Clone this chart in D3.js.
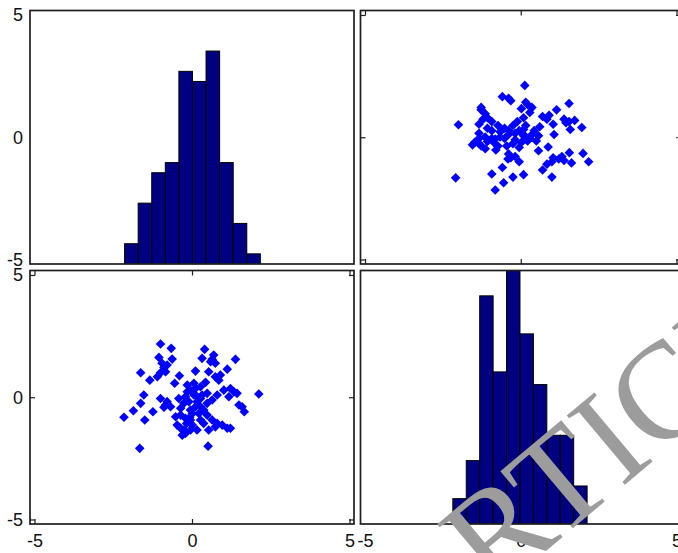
<!DOCTYPE html>
<html><head><meta charset="utf-8">
<script src="https://cdn.jsdelivr.net/npm/d3@7"></script>
<style>body{margin:0;background:#fff}svg{display:block}</style>
</head><body>
<script>
// variable 1 and variable 2 (paired observations)
const var1 = [-1.00,-0.66,-1.05,-0.63,0.40,0.69,0.32,0.64,0.74,1.38,
  -1.63,-0.89,-1.00,-1.10,-0.84,-1.34,-0.40,-0.55,0.11,0.53,
  1.12,0.43,0.74,0.85,0.90,2.12,1.43,1.22,1.17,-1.53,
  -1.63,-1.86,-2.16,-1.50,-1.24,-1.00,-0.79,-0.68,-0.89,-0.42,
  -0.15,-0.05,0.11,0.27,-0.21,0.06,-0.10,0.27,0.48,0.64,
  0.80,1.01,1.59,1.66,-0.05,-0.36,-0.21,-0.47,-0.26,-0.31,
  0.01,0.16,-0.05,0.27,0.48,0.64,0.80,0.96,1.12,1.22,
  0.74,-1.66,0.51,0.11,0.37,-0.36,-0.52,-0.17,-0.07,0.27,
  -0.15,0.16,0.01,0.37,-0.36,-0.21,0.32,-0.26,0.48,-0.79,
  -0.95,0.59,0.06,0.22,0.53,1.33,1.49,-0.84,0.11,-0.05];
const var2 = [2.18,2.00,1.63,1.56,1.96,1.73,1.59,1.55,1.39,1.55,
  1.00,1.22,1.00,0.84,1.04,0.70,0.88,0.57,1.07,1.04,
  1.15,0.61,0.84,0.70,0.91,0.13,0.16,0.36,0.02,0.09,
  -0.25,-0.55,-0.82,-0.93,-0.59,-0.05,-0.18,-0.39,-0.41,-0.05,
  0.50,0.29,0.36,0.43,0.02,0.09,-0.18,-0.05,0.16,-0.11,
  0.09,0.29,-0.39,-0.59,-0.52,-0.73,-0.86,-1.14,-1.34,-1.55,
  -1.14,-1.34,-1.34,-0.93,-0.73,-0.93,-1.07,-1.14,-1.27,-1.27,
  -1.21,-2.09,-2.00,-0.39,-0.52,-0.45,-0.80,-1.07,-0.82,-0.39,
  0.22,-0.18,-0.66,-1.07,-1.27,-1.48,0.09,-0.25,-0.25,1.32,
  1.39,1.45,0.57,-0.66,-1.34,0.22,-0.32,-0.32,0.09,-0.93];

// histogram of each variable: 10 equal bins between min and max
const hist1Counts = [2,6,9,10,19,18,21,10,4,1];
const hist1Range = [-2.14, 2.17];
const hist1YMax = 25;
const hist2Counts = [2,5,18,12,20,15,11,7,7,3];
const hist2Range = [-2.18, 2.13];
const hist2YMax = 20;

const tickValues = [-5, 0, 5];
const tickLabels = ["-5", "0", "5"];
const watermarkText = "ARTICLE IN PRESS";

const W = 678, H = 553;
const svg = d3.select("body").append("svg").attr("width", W).attr("height", H);

const cols = [{x0: 30, x1: 354}, {x0: 360.5, x1: 681}];
const rows = [{y0: 10.5, y1: 264}, {y0: 270.5, y1: 524}];
const inset = 4.5;
const xs = cols.map(c => d3.scaleLinear().domain([-5, 5]).range([c.x0 + inset, c.x1 - inset]));
const ys = rows.map(r => d3.scaleLinear().domain([-5, 5]).range([r.y1 - inset, r.y0 + inset]));

const FONT = "'Liberation Sans', Arial, Helvetica, sans-serif";
const frameColor = "#1e1e1e";

// clip paths
const defs = svg.append("defs");
rows.forEach((r, i) => cols.forEach((c, j) => {
  defs.append("clipPath").attr("id", `clip${i}${j}`)
    .append("rect").attr("x", c.x0).attr("y", r.y0)
    .attr("width", c.x1 - c.x0).attr("height", r.y1 - r.y0);
}));

function histogram(ri, ci, counts, range, ymax) {
  const r = rows[ri];
  const x = xs[ci];
  const y = d3.scaleLinear().domain([0, ymax]).range([r.y1, r.y0]);
  const step = (range[1] - range[0]) / counts.length;
  const bins = counts.map((n, k) => ({lo: range[0] + k * step, hi: range[0] + (k + 1) * step, n}));
  svg.append("g").attr("clip-path", `url(#clip${ri}${ci})`)
    .selectAll("rect").data(bins).join("rect")
    .attr("x", d => x(d.lo)).attr("width", d => x(d.hi) - x(d.lo))
    .attr("y", d => y(d.n)).attr("height", d => y(0) - y(d.n))
    .attr("fill", "#000080").attr("stroke", "#000").attr("stroke-width", 1);
}

const diamond = r => `M0,${-r}L${r},0L0,${r}L${-r},0Z`;

function scatter(ri, ci, xv, yv) {
  const x = xs[ci], y = ys[ri];
  const pts = xv.map((v, k) => [v, yv[k]]);
  svg.append("g").attr("clip-path", `url(#clip${ri}${ci})`)
    .selectAll("path").data(pts).join("path")
    .attr("d", diamond(4.8))
    .attr("transform", d => `translate(${x(d[0])},${y(d[1])})`)
    .attr("fill", "#0000ff");
  // inward ticks on all four sides
  const c = cols[ci], r = rows[ri];
  const tick = (axis, tx, ty) => {
    const g = svg.append("g").attr("transform", `translate(${tx},${ty})`)
      .call(axis.tickValues(tickValues).tickFormat("").tickSizeOuter(0));
    g.select(".domain").remove();
    g.selectAll(".tick line").attr("stroke", frameColor).attr("stroke-width", 1.2);
  };
  tick(d3.axisLeft(y).tickSizeInner(-5), c.x0, 0);
  tick(d3.axisRight(y).tickSizeInner(-5), c.x1, 0);
  tick(d3.axisTop(x).tickSizeInner(-5), 0, r.y0);
  tick(d3.axisBottom(x).tickSizeInner(-5), 0, r.y1);
}

histogram(0, 0, hist1Counts, hist1Range, hist1YMax);
histogram(1, 1, hist2Counts, hist2Range, hist2YMax);
scatter(0, 1, var2, var1);
scatter(1, 0, var1, var2);

// frames
rows.forEach(r => cols.forEach(c => {
  svg.append("rect").attr("x", c.x0).attr("y", r.y0)
    .attr("width", c.x1 - c.x0).attr("height", r.y1 - r.y0)
    .attr("fill", "none").attr("stroke", frameColor).attr("stroke-width", 1.7);
}));

// tick labels: left column (y) and bottom row (x)
rows.forEach((r, i) => {
  const g = svg.append("g").attr("transform", `translate(${cols[0].x0},0)`)
    .call(d3.axisLeft(ys[i]).tickValues(tickValues).tickFormat((d, k) => tickLabels[k])
      .tickSize(0).tickPadding(7));
  g.select(".domain").remove();
  g.selectAll("text").attr("font-family", FONT).attr("font-size", 18).attr("fill", "#111");
});
cols.forEach((c, j) => {
  const g = svg.append("g").attr("transform", `translate(0,${rows[1].y1})`)
    .call(d3.axisBottom(xs[j]).tickValues(tickValues).tickFormat((d, k) => tickLabels[k])
      .tickSize(0).tickPadding(10));
  g.select(".domain").remove();
  g.selectAll("text").attr("font-family", FONT).attr("font-size", 18).attr("fill", "#111");
});

// watermark
svg.append("text")
  .attr("transform", "translate(416,660) rotate(-40)")
  .attr("font-family", "'Liberation Serif', 'Times New Roman', serif")
  .attr("font-size", 138)
  .attr("fill", "#9c9c9c")
  .text(watermarkText);
</script>
</body></html>
